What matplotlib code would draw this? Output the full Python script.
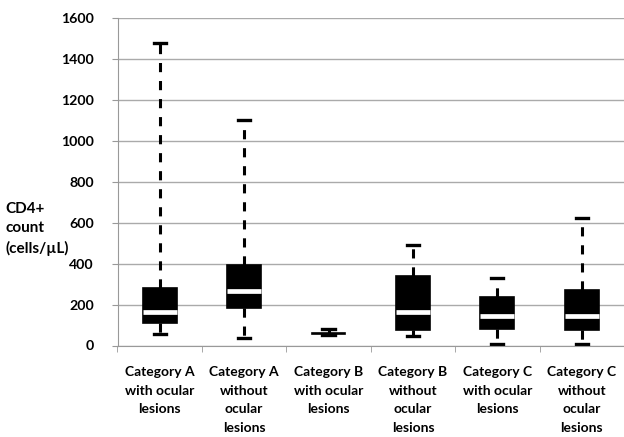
import matplotlib
matplotlib.use("Agg")
import matplotlib.pyplot as plt

# 各组 CD4+ 计数的箱线统计
labels = [
    "Category A\nwith ocular\nlesions",
    "Category A\nwithout\nocular\nlesions",
    "Category B\nwith ocular\nlesions",
    "Category B\nwithout\nocular\nlesions",
    "Category C\nwith ocular\nlesions",
    "Category C\nwithout\nocular\nlesions",
]
whis_low = [57, 36, 51, 44, 8, 8]
q1 = [110, 183, 56, 77, 82, 75]
median = [165, 265, 59, 165, 142, 142]
q3 = [282, 393, 62, 341, 239, 269]
whis_high = [1480, 1100, 82, 493, 328, 622]
yticks = [0, 200, 400, 600, 800, 1000, 1200, 1400, 1600]

plt.rcParams["font.family"] = ["Lato", "DejaVu Sans"]

fig = plt.figure(figsize=(6.24, 4.37), dpi=100)
ax = fig.add_axes([117.5 / 624, 1 - 345.5 / 437, (624 - 117.5) / 624, 327.5 / 437])

stats = []
for i in range(len(labels)):
    stats.append({
        "whislo": whis_low[i], "q1": q1[i], "med": median[i],
        "q3": q3[i], "whishi": whis_high[i], "fliers": [],
    })

parts = ax.bxp(stats, positions=range(len(labels)), widths=0.40, patch_artist=True,
               showfliers=False,
               boxprops=dict(facecolor="black", edgecolor="black", linewidth=1.2),
               medianprops=dict(color="white", linewidth=3.4, solid_capstyle="butt"),
               whiskerprops=dict(color="black", linewidth=2.2, linestyle=(0, (3.0, 2.9))),
               capprops=dict(color="black", linewidth=2.4),
               capwidths=0.145)
# B 组（有眼部病变）箱体太扁，中位线看不见
parts["medians"][2].set_visible(False)

ax.set_xlim(-0.5, len(labels) - 0.5)
ax.set_ylim(0, 1600)
ax.set_yticks(yticks)
ax.set_yticklabels([str(t) for t in yticks], fontsize=10.2, fontweight="bold")
ax.set_xticks(range(len(labels)))
ax.set_xticklabels(labels, fontsize=10, fontweight="bold", linespacing=1.65)
ax.set_xticks([i - 0.5 for i in range(len(labels) + 1)], minor=True)
ax.tick_params(axis="x", which="major", length=0, pad=15)
ax.tick_params(axis="x", which="minor", length=4, color="#999999")
ax.tick_params(axis="y", length=4, color="#999999", pad=13)
for lbl in ax.get_xticklabels():
    lbl.set_verticalalignment("top")

ax.grid(axis="y", color="#aaaaaa", linewidth=1)
ax.set_axisbelow(True)
for s in ["top", "right"]:
    ax.spines[s].set_visible(False)
ax.spines["left"].set_color("#999999")
ax.spines["bottom"].set_color("#999999")

fig.text(5 / 624, 1 - 229 / 437, "CD4+\ncount\n(cells/µL)", fontsize=11,
         fontweight="bold", ha="left", va="center", linespacing=1.45)

fig.savefig("out.png", dpi=100)
